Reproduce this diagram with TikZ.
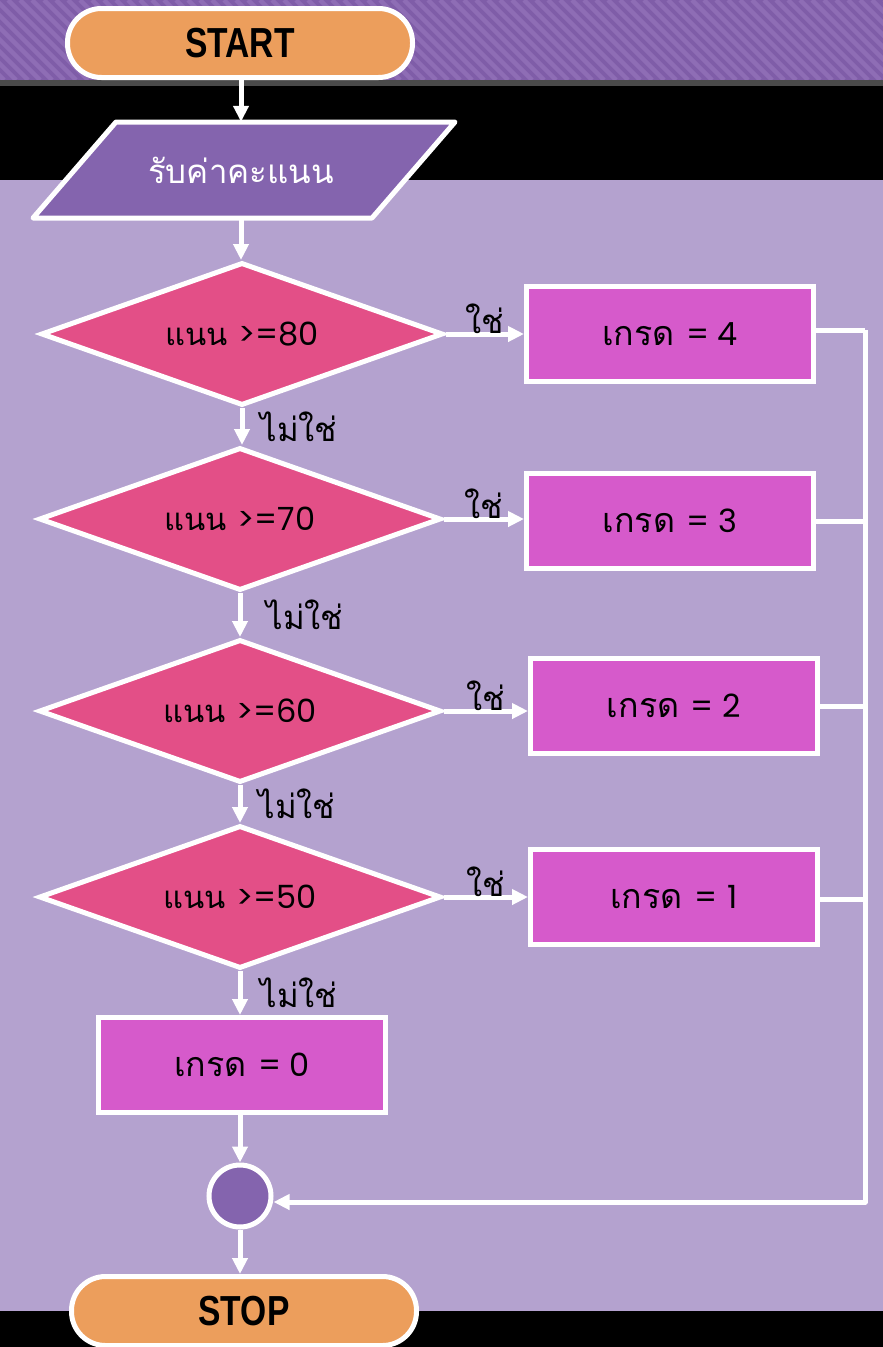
\documentclass[tikz,border=0pt]{standalone}
\usepackage{fontspec}
\setmainfont{Liberation Sans}
\newfontfamily\thaifont[Script=Thai]{Loma}
\newfontfamily\geofont{Poppins}
\usetikzlibrary{shapes.geometric,arrows.meta}
\definecolor{bgl}{HTML}{B4A2CF}
\definecolor{stripeA}{HTML}{7F5DA8}
\definecolor{stripeB}{HTML}{8E6DB5}
\definecolor{greyband}{HTML}{4A4A4A}
\definecolor{termcol}{HTML}{EC9E5C}
\definecolor{paracol}{HTML}{8464AE}
\definecolor{deccol}{HTML}{E34F87}
\definecolor{boxcol}{HTML}{D65ACB}
\tikzset{
  term/.style={draw=white, line width=5pt, fill=termcol, rounded corners=34pt,
    minimum width=345pt, minimum height=69pt, inner sep=0pt,
    font=\fontsize{42}{44}\selectfont\bfseries},
  dec/.style={diamond, shape aspect=2.8, draw=white, line width=5pt, fill=deccol,
    minimum width=402pt, minimum height=143pt, inner sep=0pt,
    font=\thaifont\fontsize{31}{33}\selectfont},
  gbox/.style={rectangle, draw=white, line width=5pt, fill=boxcol,
    minimum width=287pt, minimum height=95pt, inner sep=0pt,
    font=\thaifont\fontsize{34}{36}\selectfont},
  joint/.style={circle, draw=white, line width=5pt, fill=paracol,
    minimum size=62pt, inner sep=0pt},
  conn/.style={draw=white, line width=5pt},
  arr/.style={conn, -{Triangle[width=15pt,length=16pt]}},
  lbl/.style={font=\thaifont\fontsize{33}{35}\selectfont, text=black, inner sep=2pt}
}
\newcommand{\condensed}[1]{\scalebox{0.8}[1]{#1}}
\newcommand{\geo}[1]{{\geofont\fontsize{32}{34}\selectfont #1}}
\begin{document}
\begin{tikzpicture}[x=1pt,y=-1pt]
\useasboundingbox (0,0) rectangle (883,1347);
% background
\fill[stripeA] (0,0) rectangle (883,80);
\begin{scope}
  \clip (0,0) rectangle (883,80);
  \foreach \i in {-100,-88,...,900} \draw[stripeB, line width=4.5pt] (\i,0) -- ({\i+80},80);
\end{scope}
\fill[greyband] (0,80) rectangle (883,86);
\fill[black] (0,86) rectangle (883,180);
\fill[bgl] (0,180) rectangle (883,1311);
\fill[black] (0,1311) rectangle (883,1347);

% start
\node[term] (start) at (240,43) {\condensed{START}};
% input parallelogram
\filldraw[fill=paracol, draw=white, line width=5pt, line join=round]
  (116,122) -- (455,122) -- (372,218) -- (33,218) -- cycle;
\node[inner sep=0pt, minimum height=96pt, text=white,
  font=\thaifont\fontsize{33}{35}\selectfont] (input) at (241,170) {\raisebox{-12pt}{รับค่าคะแนน}};

% decisions
\node[dec] (d1) at (242,334) {\raisebox{-4pt}{แนน \geo{>=80}}};
\node[dec] (d2) at (240,519) {\raisebox{-4pt}{แนน \geo{>=70}}};
\node[dec] (d3) at (240,711) {\raisebox{-4pt}{แนน \geo{>=60}}};
\node[dec] (d4) at (240,897) {\raisebox{-4pt}{แนน \geo{>=50}}};

% grade boxes
\node[gbox] (g4) at (670,334) {เกรด \geo{= 4}};
\node[gbox] (g3) at (670,521) {เกรด \geo{= 3}};
\node[gbox] (g2) at (674,706) {เกรด \geo{= 2}};
\node[gbox] (g1) at (674,897) {เกรด \geo{=\hspace{10pt}1}};
\node[gbox] (g0) at (242,1065) {เกรด \geo{= 0}};

% joint and stop
\node[joint] (jn) at (240,1196) {};
\node[term] (stop) at (244,1311) {\condensed{STOP}};

% bus coordinates
\coordinate (b4) at (865,330);
\coordinate (b3) at (865,521);
\coordinate (b2) at (865,706);
\coordinate (b1) at (865,899);
\coordinate (bend) at (865,1202);

% connectors
\draw[arr] (start.south -| input.north) -- (input.north);
\draw[arr] (input.south) -- (input.south |- d1.north);
\draw[arr] (d1.east) -- (d1.east -| g4.west) node[lbl, midway, above, yshift=-4pt] {ใช่};
\draw[arr] (d2.east) -- (d2.east -| g3.west) node[lbl, midway, above, yshift=-4pt] {ใช่};
\draw[arr] (d3.east) -- (d3.east -| g2.west) node[lbl, midway, above, yshift=-4pt] {ใช่};
\draw[arr] (d4.east) -- (d4.east -| g1.west) node[lbl, midway, above, yshift=-4pt] {ใช่};
\draw[arr] (d1.south) -- (d2.north -| d1.south) node[lbl, midway, right, xshift=14pt] {ไม่ใช่};
\draw[arr] (d2.south) -- (d3.north) node[lbl, midway, right, xshift=22pt] {ไม่ใช่};
\draw[arr] (d3.south) -- (d4.north) node[lbl, midway, right, xshift=14pt] {ไม่ใช่};
\draw[arr] (d4.south) -- (d4.south |- g0.north) node[lbl, midway, right, xshift=16pt] {ไม่ใช่};
\draw[arr] (g0.south -| jn.north) -- (jn.north);
\draw[arr] (jn.south) -- (jn.south |- stop.north);

\draw[conn] (g4.east |- b4) -- (b4);
\draw[conn] (g3.east) -- (b3);
\draw[conn] (g2.east) -- (b2);
\draw[conn] (g1.east |- b1) -- (b1);
\draw[arr, line join=round] (b4) -- (bend) -- (jn.east |- bend);
\end{tikzpicture}
\end{document}
